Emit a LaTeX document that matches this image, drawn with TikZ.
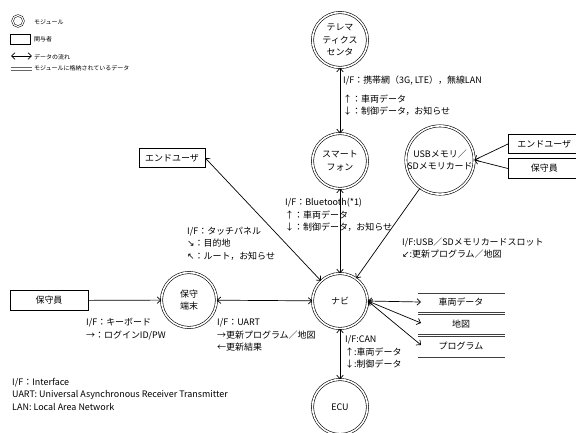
\documentclass[tikz,border=0pt]{standalone}
\usepackage{fontspec}
\setmainfont{Noto Sans CJK JP}
\newfontfamily\symf{DejaVu Sans}
\usetikzlibrary{arrows.meta}
\begin{document}
\begin{tikzpicture}[x=1bp,y=-1bp,
  font=\fontsize{9}{12.5}\selectfont,
  mod/.style={circle, draw, double, double distance=1.6bp, line width=0.6bp, minimum size=55bp, inner sep=0pt, align=center},
  actor/.style={draw, line width=0.6bp, minimum width=#1, minimum height=19.5bp, inner sep=0pt},
  tip/.tip={Straight Barb[length=3.5bp,width=6.5bp]},
  flow/.style={line width=0.7bp, {tip}-{tip}},
  oneway/.style={line width=0.7bp, -{tip}},
  lbl/.style={anchor=west, align=left, inner sep=0pt},
  storeline/.style={line width=0.7bp, draw=black!75},
  legtext/.style={anchor=west, inner sep=0pt, font=\fontsize{6}{8}\selectfont}
]
\useasboundingbox (0,0) rectangle (576,432);

% legend
\node[circle, draw, double, double distance=1.2bp, line width=0.5bp, minimum size=11bp, inner sep=0pt] (lgmod) at (18,21) {};
\node[legtext] (lgmodt) at (34,22) {モジュール};
\node[draw, line width=0.6bp, minimum width=20bp, minimum height=10bp, inner sep=0pt] (lgact) at (20,39) {};
\node[legtext] (lgactt) at (34,39) {関与者};
\coordinate (lga1) at (11,56);
\coordinate (lga2) at (32,56);
\draw[flow] (lga1) -- (lga2);
\node[legtext] (lgflt) at (34,57) {データの流れ};
\coordinate (lgs1) at (11,67.5);
\coordinate (lgs2) at (32,67.5);
\coordinate (lgs3) at (11,70);
\coordinate (lgs4) at (32,70);
\draw[storeline, draw=black!60] (lgs1) -- (lgs2) (lgs3) -- (lgs4);
\node[legtext] (lgstt) at (34,68) {モジュールに格納されているデータ};

% modules
\node[mod] (tele) at (340,40) {テレマ\\ティクス\\センタ};
\node[mod] (smart) at (340,161) {スマート\\フォン};
\node[mod] (usb) at (440,160) {USBメモリ／\\SDメモリカード};
\node[mod] (navi) at (340,301) {ナビ};
\node[mod] (ecu) at (340,407) {ECU};
\node[mod] (term) at (189,300) {保守\\端末};

% actors
\node[actor=66bp] (eu1) at (172,158) {エンドユーザ};
\node[actor=78bp] (mnt1) at (49,300.5) {保守員};
\node[actor=72bp, anchor=west] (eu2) at (508,144) {エンドユーザ};
\node[actor=72bp, anchor=west] (mnt2) at (508,168.5) {保守員};

% data stores
\draw[storeline] (418,293) -- (505,293);
\draw[storeline] (418,312) -- (505,312);
\draw[storeline] (418,314.5) -- (505,314.5);
\draw[storeline] (418,334) -- (505,334);
\draw[storeline] (418,336.5) -- (505,336.5);
\draw[storeline] (418,357) -- (505,357);
\node (st1) at (461,302.5) {車両データ};
\node (st2) at (461,324.5) {地図};
\node (st3) at (461,346.5) {プログラム};
\coordinate (e1) at (421,302);
\coordinate (e2) at (421,323);
\coordinate (e3) at (421,345);

% connectors
\draw[flow] (tele) -- (smart);
\draw[flow] (smart) -- (navi);
\draw[flow] (eu1.east) -- (navi);
\draw[oneway] (usb) -- (navi);
\draw[oneway] (eu2.west) -- (usb.east);
\draw[oneway] (mnt2.west) -- (usb.east);
\draw[oneway] (mnt1) -- (term);
\draw[flow] (term) -- (navi);
\draw[flow] (navi.east) -- (e1);
\draw[flow] (navi.east) -- (e2);
\draw[flow] (navi.east) -- (e3);
\draw[flow] (navi) -- (ecu);

% labels
\node[lbl] (l1) at (343,81) {I/F：携帯網（3G, LTE），無線LAN};
\node[lbl] (l2) at (343,105) {↑：車両データ\\↓：制御データ，お知らせ};
\node[lbl] (l3) at (285,215) {I/F：Bluetooth(*1)\\↑：車両データ\\↓：制御データ，お知らせ};
\node[lbl] (l4) at (187,243.5) {I/F：タッチパネル\\{\symf ↘}：目的地\\{\symf ↖}：ルート，お知らせ};
\node[lbl] (l5) at (402,248) {I/F:USB／SDメモリカードスロット\\{\symf ↙}:更新プログラム／地図};
\node[lbl] (l6) at (86,329) {I/F：キーボード\\→：ログインID/PW};
\node[lbl] (l7) at (217,335) {I/F：UART\\→更新プログラム／地図\\←更新結果};
\node[lbl] (l8) at (345,352) {I/F:CAN\\↑:車両データ\\↓:制御データ};
\node[lbl] (l9) at (12,394) {I/F：Interface\\UART: Universal Asynchronous Receiver Transmitter\\LAN: Local Area Network};
\end{tikzpicture}
\end{document}
